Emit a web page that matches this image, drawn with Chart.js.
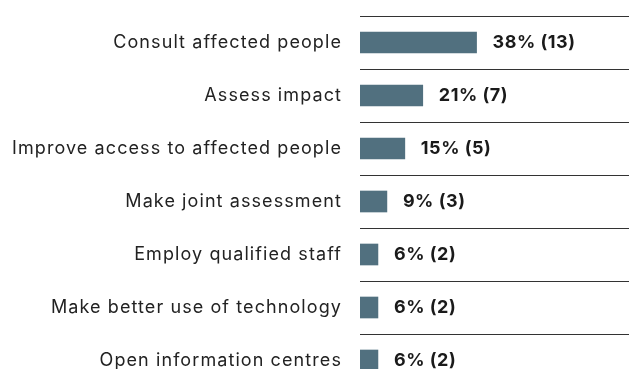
<!DOCTYPE html>
<html>
<head>
<meta charset="utf-8">
<script src="https://cdn.jsdelivr.net/npm/chart.js@4"></script>
<style>
  html, body { margin: 0; padding: 0; background: #ffffff; overflow: hidden; }
  #c { display: block; }
</style>
</head>
<body>
<canvas id="c" width="629" height="400" style="width:629px;height:400px"></canvas>
<script>
const categories = [
  "Consult affected people",
  "Assess impact",
  "Improve access to affected people",
  "Make joint assessment",
  "Employ qualified staff",
  "Make better use of technology",
  "Open information centres"
];
const percents = [38, 21, 15, 9, 6, 6, 6];
const counts = [13, 7, 5, 3, 2, 2, 2];

const FONT = "Inter";
const LABEL_SIZE = 18;
const VALUE_SIZE = 18;

// fit tracking so text widths match the reference look
const mctx = document.createElement('canvas').getContext('2d');
function trackFor(font, text, target) {
  mctx.font = font;
  mctx.letterSpacing = '0px';
  const w = mctx.measureText(text).width;
  return Math.max(0, (target - w) / text.length);
}
const labelTrack = trackFor(LABEL_SIZE + "px " + FONT, "Improve access to affected people", 330);
const valueTrack = trackFor("bold " + VALUE_SIZE + "px " + FONT, "38% (13)", 83);

const spacing = {
  id: 'spacing',
  beforeDraw(chart) { chart.ctx.letterSpacing = labelTrack + 'px'; }
};
const valueLabels = {
  id: 'valueLabels',
  afterDatasetsDraw(chart) {
    const ctx = chart.ctx;
    const meta = chart.getDatasetMeta(0);
    ctx.save();
    ctx.letterSpacing = valueTrack + 'px';
    ctx.font = "bold " + VALUE_SIZE + "px " + FONT;
    ctx.fillStyle = "#1a1a1a";
    ctx.textAlign = "left";
    ctx.textBaseline = "middle";
    meta.data.forEach((bar, i) => {
      ctx.fillText(percents[i] + "% (" + counts[i] + ")", bar.x + 16, bar.y + 0.5);
    });
    ctx.restore();
  }
};

new Chart(document.getElementById('c'), {
  type: 'bar',
  data: {
    labels: categories,
    datasets: [{
      data: counts,
      backgroundColor: '#51707f',
      borderWidth: 0,
      barThickness: 21
    }]
  },
  options: {
    indexAxis: 'y',
    responsive: false,
    animation: false,
    layout: { padding: { top: 16, right: 0, bottom: 13, left: 0 } },
    plugins: { legend: { display: false }, tooltip: { enabled: false } },
    scales: {
      x: { display: false, min: 0, max: 30 },
      y: {
        afterFit(scale) { scale.width = 360; scale.paddingTop = 0; scale.paddingBottom = 0; },
        border: { display: false },
        grid: { offset: true, drawTicks: false, color: '#333333', lineWidth: 1 },
        ticks: { padding: 18, color: '#222222', font: { family: FONT, size: LABEL_SIZE } }
      }
    }
  },
  plugins: [spacing, valueLabels]
});
</script>
</body>
</html>
